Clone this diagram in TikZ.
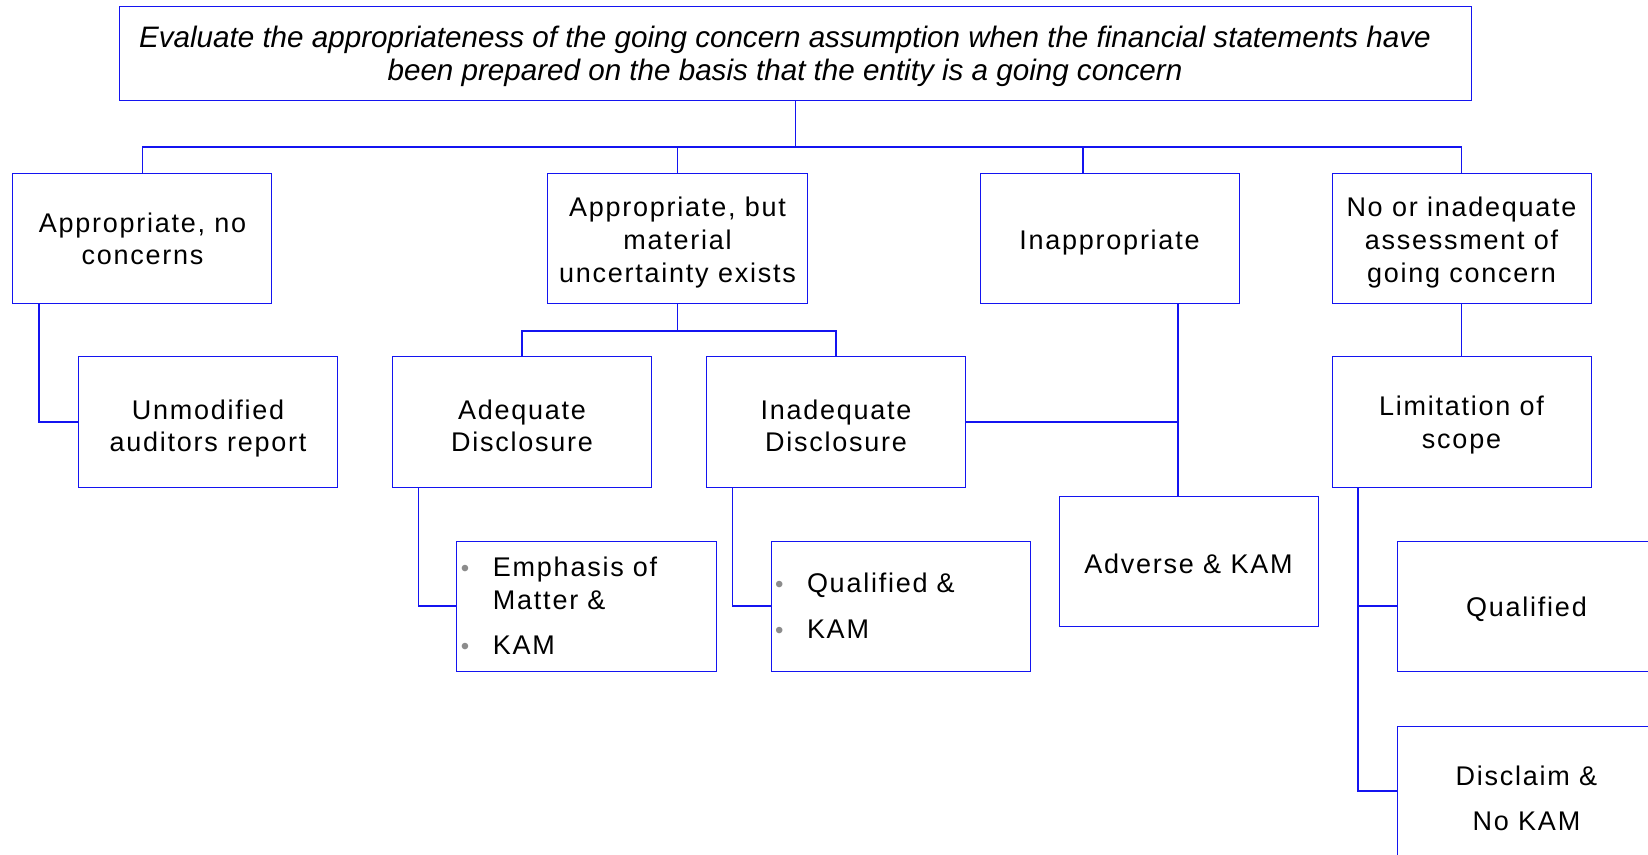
\documentclass[tikz,border=0pt]{standalone}
\usepackage{fontspec}
\setmainfont{Liberation Sans}
\newfontfamily\cardfont[LetterSpace=6.5]{Liberation Sans}
\usetikzlibrary{positioning}
\definecolor{Rule}{HTML}{1414F0}
\definecolor{Dot}{HTML}{8C8C8C}
\tikzset{
  card/.style={rectangle, draw=Rule, line width=0.5pt, minimum width=129.5pt,
    minimum height=65pt, inner sep=0pt, outer sep=0pt, align=center,
    font=\cardfont\fontsize{13.5}{16.3}\selectfont},
  listcard/.style={card, text width=129.5pt, align=left},
  headline/.style={rectangle, draw=Rule, line width=0.5pt, minimum width=675.5pt,
    minimum height=47pt, inner sep=0pt, outer sep=0pt, align=center,
    font=\itshape\fontsize{14.8}{16.3}\selectfont},
  link/.style={draw=Rule, line width=0.6pt}
}
\newcommand{\lift}[1]{\rule{0pt}{#1}}
\newcommand{\gcitem}{\makebox[18pt][l]{\hspace{2pt}\textcolor{Dot}{\fontsize{12}{12}\selectfont\textbullet}}}
\newcommand{\gcindent}{\hspace*{18pt}}

\begin{document}
\begin{tikzpicture}
  \clip (-397.75pt,27pt) rectangle (426.25pt,-400.5pt);
  \node[headline] (title) {\lift{12.9pt}Evaluate the appropriateness of the going concern assumption when the financial statements have\hspace*{10.5pt}\\been prepared on the basis that the entity is a going concern\hspace*{10.5pt}};

  % first level
  \node[card, below=36.5pt of title.south west, xshift=11.25pt] (fine) {Appropriate, no\\concerns};
  \node[card, right=138pt of fine] (doubt) {\lift{13.4pt}Appropriate, but\\material\\uncertainty exists};
  \node[card, right=86.5pt of doubt] (inapp) {\lift{13.1pt}Inappropriate};
  \node[card, right=46.5pt of inapp] (noassess) {\lift{13.4pt}No or inadequate\\assessment of\\going concern};

  % second level
  \node[card, below=26.5pt of fine, xshift=32.75pt] (unmod) {\lift{16.2pt}Unmodified\\auditors report};
  \node[card, right=27.5pt of unmod] (adequate) {\lift{13.5pt}Adequate\\Disclosure};
  \node[card, right=27.5pt of adequate] (inadequate) {\lift{13.5pt}Inadequate\\Disclosure};
  \node[card, below=26.5pt of noassess] (scope) {\lift{13.1pt}Limitation of\\scope};

  % opinions
  \node[listcard, below=27pt of adequate, xshift=32.25pt] (eom) {\gcitem Emphasis of\\\gcindent Matter \&\\[6.5pt]\gcitem KAM};
  \node[listcard, right=27.5pt of eom] (qualkam) {\gcitem Qualified \&\\[6.5pt]\gcitem KAM};
  \node[card, right=14.5pt of qualkam, yshift=22.5pt] (adverse) {\lift{13.1pt}Adverse \& KAM};
  \node[card, below=27pt of scope, xshift=32.5pt] (qualified) {\lift{13.1pt}Qualified};
  \node[card, below=27.5pt of qualified] (disclaim) {\lift{17.3pt}Disclaim \&\\[6.5pt]No KAM};

  \draw[link] (title.south) -- ++(0,-23pt) coordinate (bus);
  \draw[link] (bus) -| (fine.north);
  \draw[link] (bus) -| (doubt.north);
  \draw[link] (bus) -| ([xshift=-13.25pt]inapp.north);
  \draw[link] (bus) -| (noassess.north);
  \draw[link] ([xshift=13pt]fine.south west) |- (unmod.west);
  \draw[link] (doubt.south) -- ++(0,-13.5pt) coordinate (fork);
  \draw[link] (fork) -| (adequate.north);
  \draw[link] (fork) -| (inadequate.north);
  \draw[link] ([xshift=13pt]adequate.south west) |- (eom.west);
  \draw[link] ([xshift=13pt]inadequate.south west) |- (qualkam.west);
  \draw[link] ([xshift=34.25pt]inapp.south) |- (inadequate.east) coordinate[pos=0.5] (merge);
  \draw[link] (merge) -- (merge |- adverse.north);
  \draw[link] (noassess) -- (scope);
  \draw[link] ([xshift=13pt]scope.south west) |- (qualified.west);
  \draw[link] ([xshift=13pt]scope.south west) |- (disclaim.west);
\end{tikzpicture}
\end{document}
